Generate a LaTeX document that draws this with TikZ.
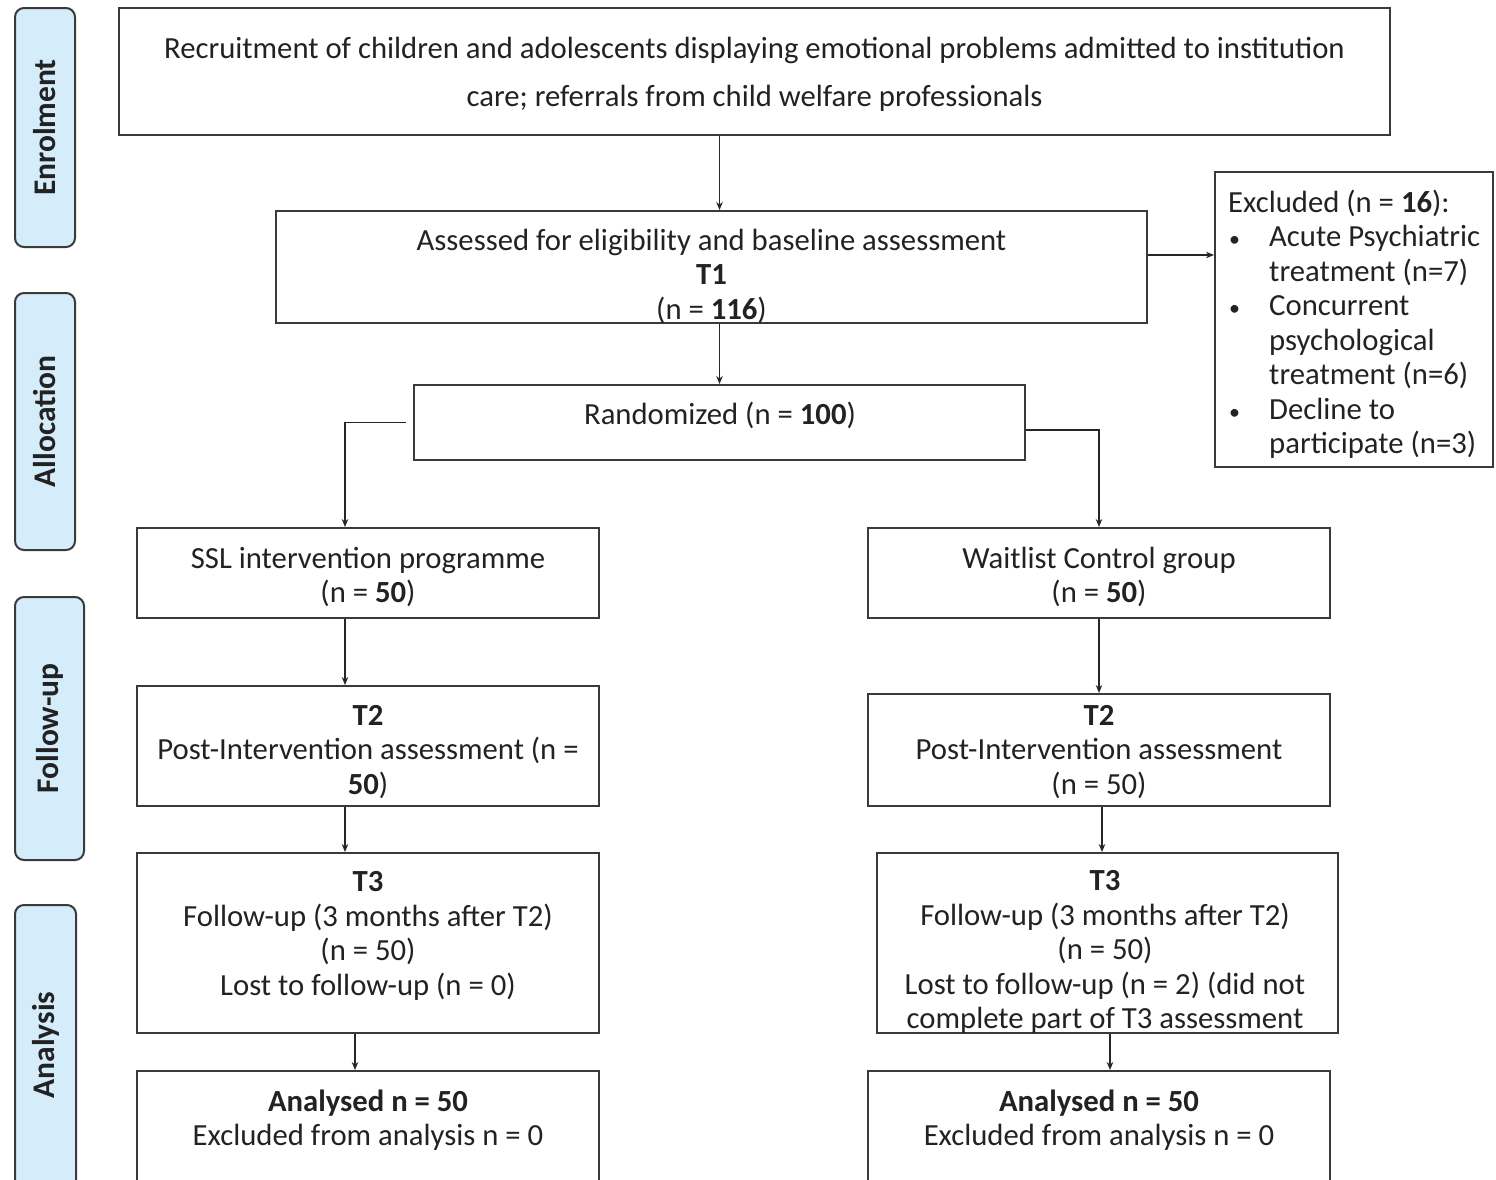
\documentclass[tikz,border=0pt]{standalone}
\usepackage{fontspec}
\setmainfont{Carlito}
\usetikzlibrary{arrows.meta,calc}
\definecolor{lblue}{HTML}{D5ECFB}
\definecolor{edge}{HTML}{3A3A3A}
\definecolor{ink}{HTML}{222222}
\newcommand{\mybul}{\makebox[41pt][l]{\hspace{1pt}{\fontsize{22}{22}\selectfont •}}}
\begin{document}
\begin{tikzpicture}[x=1pt,y=-1pt,
  box/.style={draw=edge,line width=2pt,rectangle,inner sep=0pt,fill=white},
  side/.style={draw=edge,line width=2pt,rounded corners=9pt,fill=lblue,inner sep=0pt},
  txt/.style={inner sep=0pt,align=center,text=ink,font=\fontsize{30.7}{34.5}\selectfont},
  sidetxt/.style={inner sep=0pt,rotate=90,text=ink,font=\fontsize{31.5}{34}\selectfont\bfseries},
  arr/.style={draw=black!85,line width=1.9pt,-{Stealth[length=8pt,width=6.5pt]}}]
\useasboundingbox (0,0) rectangle (1496,1179);
\clip (0,0) rectangle (1496,1179);
\fill[white] (0,0) rectangle (1496,1179);

% side labels
\node[side,minimum width=60pt,minimum height=239pt] (senr) at (45,127.5) {};
\node[sidetxt] (tenr) at (senr.center) {Enrolment};
\node[side,minimum width=60pt,minimum height=257pt] (sall) at (45,421.5) {};
\node[sidetxt] (tall) at (sall.center) {Allocation};
\node[side,minimum width=69pt,minimum height=263pt] (sfol) at (49.5,728.5) {};
\node[sidetxt] (tfol) at (sfol.center) {Follow-up};
\node[side,minimum width=61pt,minimum height=300pt] (sana) at (45.5,1055) {};
\node[sidetxt] (tana) at (45.5,1045) {Analysis};

% boxes
\node[box,minimum width=1271pt,minimum height=127pt] (top) at (754.5,71.5) {};
\node[box,minimum width=871pt,minimum height=112pt] (assess) at (711.5,267) {};
\node[box,minimum width=278pt,minimum height=295pt] (excl) at (1354,319.5) {};
\node[box,minimum width=611pt,minimum height=75pt] (rand) at (719.5,422.5) {};
\node[box,minimum width=462pt,minimum height=90pt] (ssl) at (368,573) {};
\node[box,minimum width=462pt,minimum height=90pt] (wait) at (1099,573) {};
\node[box,minimum width=462pt,minimum height=120pt] (t2l) at (368,746) {};
\node[box,minimum width=462pt,minimum height=112pt] (t2r) at (1099,750) {};
\node[box,minimum width=462pt,minimum height=180pt] (t3l) at (368,943) {};
\node[box,minimum width=461pt,minimum height=180pt] (t3r) at (1107.5,943) {};
\node[box,minimum width=462pt,minimum height=140pt] (anl) at (368,1141) {};
\node[box,minimum width=462pt,minimum height=140pt] (anr) at (1099,1141) {};

% texts
\node[txt,font=\fontsize{30.7}{48}\selectfont] (ttop) at (754.5,74) {Recruitment of children and adolescents displaying emotional problems admitted to institution\\care; referrals from child welfare professionals};
\node[txt] (tassess) at (711.5,276) {Assessed for eligibility and baseline assessment\\\textbf{T1}\\(n = \textbf{116})};
\node[txt,align=left,anchor=west] (texcl) at (1228,324) {Excluded (n = \textbf{16}):\\
\mybul Acute Psychiatric\\
\hspace*{41pt}treatment (n=7)\\
\mybul Concurrent\\
\hspace*{41pt}psychological\\
\hspace*{41pt}treatment (n=6)\\
\mybul Decline to\\
\hspace*{41pt}participate (n=3)};
\node[txt] (trand) at (720,415) {Randomized (n = \textbf{100})};
\node[txt] (tssl) at (368,577) {SSL intervention programme\\(n = \textbf{50})};
\node[txt] (twait) at (1099,577) {Waitlist Control group\\(n = \textbf{50})};
\node[txt] (tt2l) at (368,752) {\textbf{T2}\\Post-Intervention assessment (n =\\\textbf{50})};
\node[txt] (tt2r) at (1099,752) {\textbf{T2}\\Post-Intervention assessment\\(n = 50)};
\node[txt] (tt3l) at (368,936) {\textbf{T3}\\Follow-up (3 months after T2)\\(n = 50)\\Lost to follow-up (n = 0)};
\node[txt] (tt3r) at (1105,952) {\textbf{T3}\\Follow-up (3 months after T2)\\(n = 50)\\Lost to follow-up (n = 2) (did not\\complete part of T3 assessment};
\node[txt] (tanl) at (368,1120) {\textbf{Analysed n = 50}\\Excluded from analysis n = 0};
\node[txt] (tanr) at (1099,1120) {\textbf{Analysed n = 50}\\Excluded from analysis n = 0};

% connectors
\draw[arr] (rand.north |- top.south) -- (rand.north |- assess.north);
\draw[arr] ([yshift=12pt]assess.east) -- ([yshift=12pt]assess.east -| excl.west);
\draw[arr] (rand.north |- assess.south) -- (rand.north);
\draw[arr] ([xshift=-7pt]rand.west) -| ([xshift=-23pt]ssl.north);
\draw[arr] ([yshift=-7.5pt]rand.east) -| (wait.north);
\draw[arr] ([xshift=-23pt]ssl.south) -- ([xshift=-23pt]t2l.north);
\draw[arr] (wait.south) -- (t2r.north);
\draw[arr] ([xshift=-23pt]t2l.south) -- ([xshift=-23pt]t3l.north);
\draw[arr] ([xshift=3pt]t2r.south) -- ([xshift=3pt]t2r.south |- t3r.north);
\draw[arr] ([xshift=-13pt]t3l.south) -- ([xshift=-13pt]anl.north);
\draw[arr] ([xshift=2.5pt]t3r.south) -- ([xshift=2.5pt]t3r.south |- anr.north);
\end{tikzpicture}
\end{document}
